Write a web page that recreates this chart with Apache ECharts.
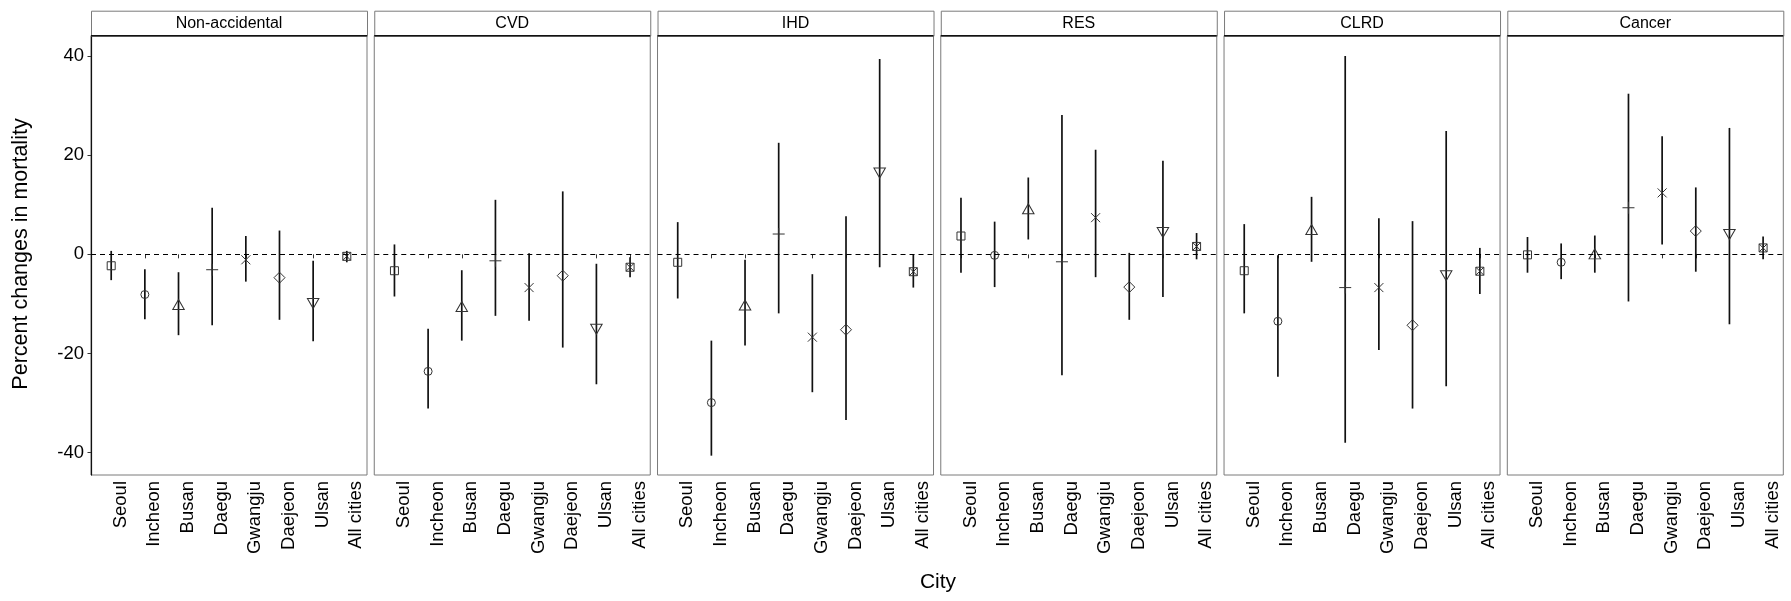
<!DOCTYPE html>
<html>
<head>
<meta charset="utf-8">
<script src="https://cdn.jsdelivr.net/npm/echarts@6/dist/echarts.min.js"></script>
<style>
html,body{margin:0;padding:0;background:#fff;}
#chart{width:1791px;height:601px;}
</style>
</head>
<body>
<div id="chart"></div>
<script>
// ---- Data ----
const cities = ['Seoul', 'Incheon', 'Busan', 'Daegu', 'Gwangju', 'Daejeon', 'Ulsan', 'All cities'];
const causes = ['Non-accidental', 'CVD', 'IHD', 'RES', 'CLRD', 'Cancer'];
const yTicks = [-40, -20, 0, 20, 40];

const nonAccEst  = [-2.3, -8.1, -10.1, -3.1, -1.1, -4.7, -9.9, -0.4];
const nonAccLow  = [-5.2, -13.1, -16.3, -14.3, -5.5, -13.2, -17.5, -1.6];
const nonAccHigh = [0.7, -3.0, -3.6, 9.4, 3.7, 4.8, -1.3, 0.7];

const cvdEst  = [-3.3, -23.6, -10.5, -1.3, -6.7, -4.3, -15.1, -2.6];
const cvdLow  = [-8.5, -31.1, -17.4, -12.4, -13.4, -18.8, -26.2, -4.6];
const cvdHigh = [2.0, -15.0, -3.2, 11.0, 0.2, 12.7, -1.9, -0.6];

const ihdEst  = [-1.6, -29.9, -10.2, 4.1, -16.7, -15.2, 16.4, -3.5];
const ihdLow  = [-8.9, -40.6, -18.4, -11.9, -27.8, -33.4, -2.6, -6.7];
const ihdHigh = [6.5, -17.4, -1.1, 22.5, -4.0, 7.7, 39.4, 0.0];

const resEst  = [3.7, -0.2, 9.2, -1.5, 7.4, -6.6, 4.4, 1.6];
const resLow  = [-3.7, -6.6, 3.0, -24.4, -4.6, -13.2, -8.6, -1.0];
const resHigh = [11.4, 6.6, 15.5, 28.1, 21.1, 0.3, 18.9, 4.3];

const clrdEst  = [-3.3, -13.5, 5.0, -6.7, -6.7, -14.3, -4.3, -3.4];
const clrdLow  = [-11.9, -24.7, -1.5, -38.0, -19.3, -31.1, -26.6, -8.0];
const clrdHigh = [6.1, -0.2, 11.6, 40.0, 7.3, 6.7, 24.9, 1.3];

const cancerEst  = [-0.1, -1.6, 0.1, 9.4, 12.4, 4.7, 4.0, 1.3];
const cancerLow  = [-3.7, -5.0, -3.7, -9.5, 2.0, -3.5, -14.1, -1.0];
const cancerHigh = [3.5, 2.2, 3.8, 32.4, 23.8, 13.5, 25.5, 3.6];

const panelEst  = [nonAccEst, cvdEst, ihdEst, resEst, clrdEst, cancerEst];
const panelLow  = [nonAccLow, cvdLow, ihdLow, resLow, clrdLow, cancerLow];
const panelHigh = [nonAccHigh, cvdHigh, ihdHigh, resHigh, clrdHigh, cancerHigh];

// ---- Styling / layout ----
const FONT = 'Liberation Sans, Arial, sans-serif';
const shapes = [
  'rect',
  'circle',
  'triangle',
  'path://M0,5L10,5M5,0L5,10',
  'path://M0,0L10,10M10,0L0,10',
  'path://M5,0L10,5L5,10L0,5Z',
  'path://M0,0L10,0L5,8.66Z',
  'path://M0,0L10,0L10,10L0,10ZM0,0L10,10M10,0L0,10'
];
const sizes = [[8, 8], 8, [11.5, 10], [12, 12], [9, 9], [11, 11], [11.5, 10], [8, 8]];

const P_LEFT = 91, P_STEP = 283.26, P_W = 276, P_TOP = 35.7, P_H = 439.3;
const STRIP_TOP = 10.7;
const cityTicks = cities.map((c, i) => i + 1);

const chart = echarts.init(document.getElementById('chart'), null, {renderer: 'canvas'});

const grid = [], xAxis = [], yAxis = [], series = [], graphic = [];
causes.forEach((cause, i) => {
  const left = P_LEFT + i * P_STEP;
  grid.push({
    left: left, top: P_TOP, width: P_W, height: P_H,
    show: true, borderColor: '#7a7a7a', borderWidth: 1, backgroundColor: '#fff',
    containLabel: false, outerBoundsMode: 'none'
  });
  xAxis.push({
    type: 'value', gridIndex: i, min: 0.4, max: 8.6,
    splitLine: {show: false},
    axisLine: {show: false},
    axisTick: {show: true, customValues: cityTicks, length: 4, lineStyle: {color: '#333', width: 1}},
    axisLabel: {
      show: true, customValues: cityTicks, rotate: 90, margin: 6,
      fontSize: 18.5, fontFamily: FONT, color: '#000',
      verticalAlign: 'top',
      formatter: v => cities[Math.round(v) - 1] || ''
    }
  });
  yAxis.push({
    type: 'value', gridIndex: i, min: -44.5, max: 44.1,
    splitLine: {show: false},
    axisLine: {show: i === 0, lineStyle: {color: '#111', width: 1.2}},
    axisTick: {show: i === 0, customValues: yTicks, length: 3.5, lineStyle: {color: '#333', width: 1}},
    axisLabel: {show: i === 0, customValues: yTicks, margin: 7, fontSize: 18.5, fontFamily: FONT, color: '#000'}
  });
  const est = panelEst[i], low = panelLow[i], high = panelHigh[i];
  series.push({
    type: 'custom', xAxisIndex: i, yAxisIndex: i, silent: true,
    encode: {x: 0, y: [1, 2]},
    data: cities.map((c, j) => [j + 1, low[j], high[j]]),
    renderItem: (params, api) => {
      const x = api.value(0);
      const p1 = api.coord([x, api.value(1)]);
      const p2 = api.coord([x, api.value(2)]);
      return {type: 'line', shape: {x1: p1[0], y1: p1[1], x2: p2[0], y2: p2[1]},
              style: {stroke: '#111', lineWidth: 1.7}};
    },
    z: 2
  });
  series.push({
    type: 'scatter', xAxisIndex: i, yAxisIndex: i, silent: true,
    data: cities.map((c, j) => ({value: [j + 1, est[j]], symbol: shapes[j], symbolSize: sizes[j]})),
    itemStyle: {color: 'rgba(0,0,0,0)', borderColor: '#333', borderWidth: 1, opacity: 1},
    markLine: {
      silent: true, symbol: 'none', label: {show: false},
      lineStyle: {color: '#000', width: 1.2, type: [5, 4]},
      data: [{yAxis: 0}],
      animation: false
    },
    z: 3
  });
  // facet strip
  graphic.push({
    type: 'rect', left: left, top: STRIP_TOP,
    shape: {x: 0, y: 0, width: P_W, height: P_TOP - STRIP_TOP},
    style: {fill: '#fff', stroke: '#7a7a7a', lineWidth: 1}, z: 10, silent: true
  });
  graphic.push({
    type: 'line', shape: {x1: left, y1: P_TOP, x2: left + P_W, y2: P_TOP},
    style: {stroke: '#111', lineWidth: 1.4}, z: 11, silent: true
  });
  graphic.push({
    type: 'text', x: left + P_W / 2, y: (STRIP_TOP + P_TOP) / 2,
    style: {text: cause, fontSize: 16, fontFamily: FONT, fill: '#000', align: 'center', verticalAlign: 'middle'},
    z: 12, silent: true
  });
});

graphic.push({
  type: 'text', x: 938, y: 582,
  style: {text: 'City', fontSize: 21, fontFamily: FONT, fill: '#000', align: 'center', verticalAlign: 'middle'},
  silent: true
});
graphic.push({
  type: 'text', x: 21, y: 254, rotation: Math.PI / 2,
  style: {text: 'Percent changes in mortality', fontSize: 21.5, fontFamily: FONT, fill: '#000', align: 'center', verticalAlign: 'middle'},
  silent: true
});

chart.setOption({
  animation: false,
  backgroundColor: '#fff',
  grid: grid, xAxis: xAxis, yAxis: yAxis, series: series, graphic: graphic
});
</script>
</body>
</html>
